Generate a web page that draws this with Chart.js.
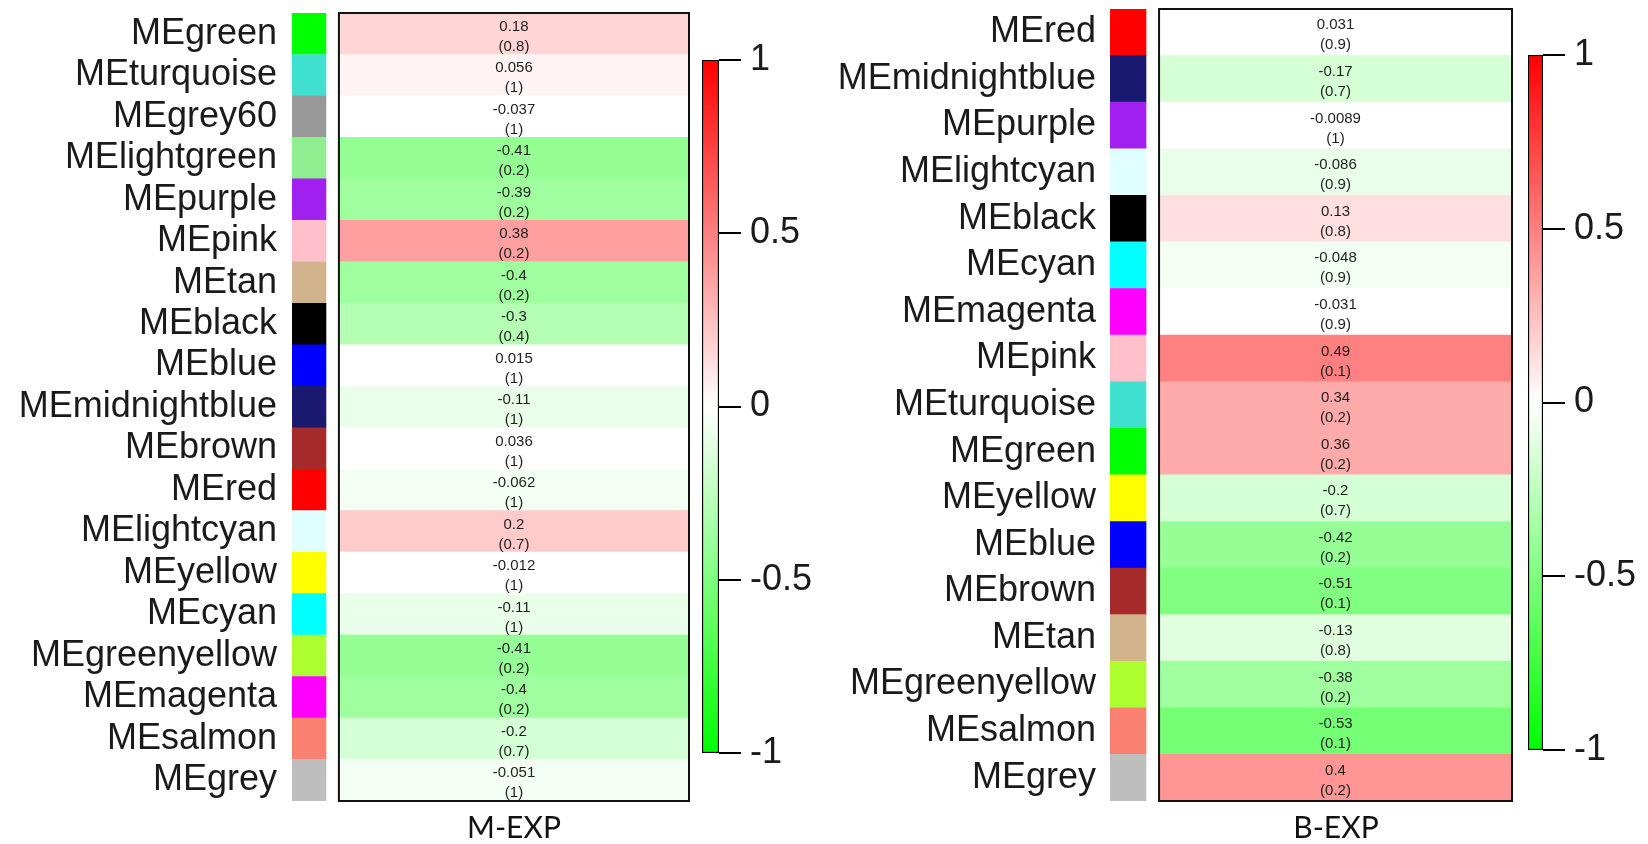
<!DOCTYPE html>
<html>
<head>
<meta charset="utf-8">
<script src="https://cdn.jsdelivr.net/npm/chart.js@4.4.1/dist/chart.umd.min.js"></script>
<style>
  html, body { margin: 0; padding: 0; background: #fff; }
  #page { position: relative; width: 1648px; height: 844px; overflow: hidden; }
  canvas { position: absolute; top: 0; }
  .panel-title {
    position: absolute; top: 808px; transform: translateX(-50%);
    font: 30px Lato, "Open Sans", sans-serif; color: #111; white-space: nowrap;
  }
</style>
</head>
<body>
<div id="page">
  <canvas id="heatM" width="700" height="844" style="left:0px"></canvas>
  <canvas id="barM" width="130" height="844" style="left:690px"></canvas>
  <canvas id="heatB" width="700" height="844" style="left:820px"></canvas>
  <canvas id="barB" width="133" height="844" style="left:1515px"></canvas>
  <div class="panel-title" style="left:514px">M-EXP</div>
  <div class="panel-title" style="left:1336px">B-EXP</div>
</div>
<script>
// module eigengenes vs M-EXP
const mModules = ["MEgreen", "MEturquoise", "MEgrey60", "MElightgreen", "MEpurple", "MEpink", "MEtan",
  "MEblack", "MEblue", "MEmidnightblue", "MEbrown", "MEred", "MElightcyan", "MEyellow", "MEcyan",
  "MEgreenyellow", "MEmagenta", "MEsalmon", "MEgrey"];
const mCor = [0.18, 0.056, -0.037, -0.41, -0.39, 0.38, -0.4, -0.3, 0.015, -0.11, 0.036, -0.062, 0.2,
  -0.012, -0.11, -0.41, -0.4, -0.2, -0.051];
const mP = [0.8, 1, 1, 0.2, 0.2, 0.2, 0.2, 0.4, 1, 1, 1, 1, 0.7, 1, 1, 0.2, 0.2, 0.7, 1];

// module eigengenes vs B-EXP
const bModules = ["MEred", "MEmidnightblue", "MEpurple", "MElightcyan", "MEblack", "MEcyan", "MEmagenta",
  "MEpink", "MEturquoise", "MEgreen", "MEyellow", "MEblue", "MEbrown", "MEtan", "MEgreenyellow",
  "MEsalmon", "MEgrey"];
const bCor = [0.031, -0.17, -0.0089, -0.086, 0.13, -0.048, -0.031, 0.49, 0.34, 0.36, -0.2, -0.42, -0.51,
  -0.13, -0.38, -0.53, 0.4];
const bP = [0.9, 0.7, 1, 0.9, 0.8, 0.9, 0.9, 0.1, 0.2, 0.2, 0.7, 0.2, 0.1, 0.8, 0.2, 0.1, 0.2];

// colour bar ticks
const legendTicks = [-1, -0.5, 0, 0.5, 1];

// R colour names used by the module swatches
const moduleColors = {
  MEgreen: "#00ff00", MEturquoise: "#40e0d0", MEgrey60: "#999999", MElightgreen: "#90ee90",
  MEpurple: "#a020f0", MEpink: "#ffc0cb", MEtan: "#d2b48c", MEblack: "#000000", MEblue: "#0000ff",
  MEmidnightblue: "#191970", MEbrown: "#a52a2a", MEred: "#ff0000", MElightcyan: "#e0ffff",
  MEyellow: "#ffff00", MEcyan: "#00ffff", MEgreenyellow: "#adff2f", MEmagenta: "#ff00ff",
  MEsalmon: "#fa8072", MEgrey: "#bebebe"
};

const labelFont = "'Liberation Sans', Arial, sans-serif";

// 50-step green-white-red palette, equal-width bins over [-1, 1]
function corColor(v) {
  const k = Math.max(0, Math.min(49, Math.floor((v + 1) / 0.04)));
  let r, g, b;
  if (k < 25) { r = b = k / 24; g = 1; }
  else { r = 1; g = b = 1 - (k - 25) / 24; }
  return "rgb(" + Math.round(r * 255) + "," + Math.round(g * 255) + "," + Math.round(b * 255) + ")";
}

// correlation and p-value written inside each cell
const cellText = {
  id: "cellText",
  afterDatasetsDraw(chart, args, opts) {
    const c = chart.ctx;
    const meta = chart.getDatasetMeta(0);
    c.save();
    c.font = "15px " + labelFont;
    c.fillStyle = "#1e1e1e";
    c.textAlign = "center";
    c.textBaseline = "middle";
    meta.data.forEach((bar, i) => {
      const x = (bar.x + bar.base) / 2;
      c.fillText(String(opts.cor[i]), x, bar.y - 7);
      c.fillText("(" + opts.p[i] + ")", x, bar.y + 13);
    });
    c.restore();
  }
};

// black frame round the heatmap cells only
const boxFrame = {
  id: "boxFrame",
  afterDatasetsDraw(chart) {
    const x = chart.scales.x, a = chart.chartArea;
    const x0 = x.getPixelForValue(0), x1 = x.getPixelForValue(1);
    const c = chart.ctx;
    c.save();
    c.strokeStyle = "#111";
    c.lineWidth = 2;
    c.strokeRect(x0, a.top, x1 - x0, a.bottom - a.top);
    c.restore();
  }
};

function heatmap(id, modules, cor, p, cfg) {
  new Chart(document.getElementById(id), {
    type: "bar",
    data: {
      labels: modules,
      datasets: [
        {
          label: "cor",
          data: modules.map(() => [0, 1]),
          backgroundColor: cor.map(corColor),
          grouped: false, categoryPercentage: 1, barPercentage: 1, borderWidth: 0
        },
        {
          label: "module",
          data: modules.map(() => [cfg.xMin, cfg.swatchEnd]),
          backgroundColor: modules.map(m => moduleColors[m]),
          grouped: false, categoryPercentage: 1, barPercentage: 1, borderWidth: 0
        }
      ]
    },
    options: {
      indexAxis: "y",
      responsive: false,
      animation: false,
      layout: { padding: cfg.padding },
      plugins: {
        legend: { display: false },
        tooltip: { enabled: false },
        cellText: { cor: cor, p: p }
      },
      scales: {
        x: { display: false, min: cfg.xMin, max: 1 },
        y: {
          grid: { display: false, drawTicks: false },
          border: { display: false },
          ticks: {
            autoSkip: false,
            padding: cfg.labelPad,
            color: "#1a1a1a",
            font: { family: labelFont, size: 36 }
          },
          afterFit(s) {
            s.width = cfg.axisWidth;
            s.paddingTop = 0;
            s.paddingBottom = 0;
          }
        }
      }
    },
    plugins: [cellText, boxFrame]
  });
}

function colorbar(id, cfg) {
  new Chart(document.getElementById(id), {
    type: "bar",
    data: {
      labels: [""],
      datasets: [{
        data: [[legendTicks[0], legendTicks[legendTicks.length - 1]]],
        backgroundColor(ctx) {
          const chart = ctx.chart, y = chart.scales.y;
          if (!chart.chartArea || !y) return "#fff";
          const g = chart.ctx.createLinearGradient(0, y.getPixelForValue(-1), 0, y.getPixelForValue(1));
          g.addColorStop(0, "#00ff00");
          g.addColorStop(0.5, "#ffffff");
          g.addColorStop(1, "#ff0000");
          return g;
        },
        borderColor: "#000",
        borderWidth: 1.5,
        borderSkipped: false,
        categoryPercentage: 1,
        barPercentage: 1
      }]
    },
    options: {
      responsive: false,
      animation: false,
      layout: { padding: cfg.padding },
      plugins: { legend: { display: false }, tooltip: { enabled: false } },
      scales: {
        x: { display: false },
        y: {
          position: "right",
          min: -1, max: 1,
          afterBuildTicks(s) { s.ticks = legendTicks.map(v => ({ value: v })); },
          grid: { drawOnChartArea: false, tickLength: 22, color: "#000", lineWidth: 2 },
          border: { display: false },
          ticks: {
            padding: 9,
            color: "#1a1a1a",
            font: { family: labelFont, size: 36 },
            callback: v => String(v)
          },
          afterFit(s) {
            s.width = cfg.axisWidth;
            s.paddingTop = 0;
            s.paddingBottom = 0;
          }
        }
      }
    }
  });
}

heatmap("heatM", mModules, mCor, mP, {
  xMin: -0.134, swatchEnd: -0.037, axisWidth: 292, labelPad: 15,
  padding: { top: 13, bottom: 43, right: 11, left: 0 }
});
heatmap("heatB", bModules, bCor, bP, {
  xMin: -0.139, swatchEnd: -0.037, axisWidth: 290, labelPad: 14,
  padding: { top: 9, bottom: 43, right: 8, left: 0 }
});
colorbar("barM", { axisWidth: 101, padding: { top: 60, bottom: 91, left: 12, right: 0 } });
colorbar("barB", { axisWidth: 105, padding: { top: 55, bottom: 94, left: 13, right: 0 } });
</script>
</body>
</html>
